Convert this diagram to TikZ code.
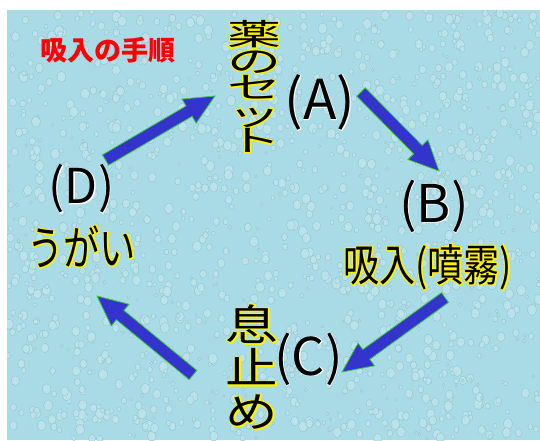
\documentclass[tikz,border=0pt]{standalone}
\usepackage{fontspec}
\usetikzlibrary{calc}
\newfontfamily\jp{Noto Sans CJK JP}
\newfontfamily\jpwide[FakeStretch=1.8]{Noto Sans CJK JP}
\newfontfamily\jpmid[FakeStretch=1.25]{Noto Sans CJK JP}
\newfontfamily\jpnarrow[FakeStretch=0.82]{Noto Sans CJK JP}
\newfontfamily\jpthin[FakeStretch=0.77]{Noto Sans CJK JP}
\definecolor{mizu}{RGB}{168,219,230}
\definecolor{aoya}{RGB}{52,52,204}
\definecolor{midori}{RGB}{60,200,60}
% vertical stack of characters with fixed pitch
\newcommand\tategaki[2]{\vbox{\baselineskip=#1\lineskiplimit=-100pt\lineskip=0pt #2}}
% text with an outline behind it: colour, stroke width, name, position, style, text
\newcommand\hikari[6]{%
  \node[#5,text=#1] at (#4)
    {\special{pdf:literal direct 1 j #2 w 2 Tr}#6\special{pdf:literal direct 0 Tr 0 j 0.4 w}};
  \node[#5] (#3) at (#4) {#6};}
% block arrow from tail #1 to tip #2
\newcommand\yajirushi[2]{%
  \coordinate (neck) at ($(#2)!30pt!(#1)$);
  \draw[yaji] ($(#1)!6pt!90:(#2)$) -- ($(neck)!6pt!90:(#2)$)
    -- ($(neck)!14pt!90:(#2)$) -- (#2) -- ($(neck)!14pt!-90:(#2)$)
    -- ($(neck)!6pt!-90:(#2)$) -- ($(#1)!6pt!-90:(#2)$) -- cycle;}

\begin{document}
\begin{tikzpicture}[x=1pt,y=-1pt,every node/.style={inner sep=0pt},
  yaji/.style={fill=aoya,draw=midori,line width=0.8pt,line join=miter},
  shizuku/.style={fill=mizu!80!white,draw=mizu!88!black,line width=0.35pt},
  moji/.style={font=\jp\fontsize{#1}{#1}\selectfont}]

\useasboundingbox (0,0) rectangle (540,440);
\fill[white] (0,0) rectangle (540,440);
\fill[mizu] (7,10) rectangle (540,440);

% water drops
\begin{scope}
\clip (7,10) rectangle (540,440);
\pgfmathsetseed{12}
\foreach \i in {1,...,1400}{
  \pgfmathsetmacro\px{7+533*rnd}
  \pgfmathsetmacro\py{10+430*rnd}
  \pgfmathsetmacro\pr{1.2+3.5*rnd}
  \draw[shizuku] (\px,\py) ellipse ({\pr} and {1.2*\pr});
}
\end{scope}

\node (tejun) at (107.5,50.5) [font=\jp\bfseries\fontsize{27}{27}\selectfont,text=red] {吸入の手順};

\hikari{yellow}{2.6}{kusuri}{254,86.5}{font=\jpwide\fontsize{30}{30}\selectfont}
  {\tategaki{26.5pt}{\hbox{薬}\hbox{の}\hbox{セ}\hbox{ッ}\hbox{ト}}}
\hikari{white}{1}{labelA}{320,102.5}{moji=55}{(A)}

\hikari{white}{1}{labelB}{434,206}{moji=52}{(B)}
\hikari{yellow}{2.6}{kyunyu}{427.5,267}{font=\jpnarrow\fontsize{44}{44}\selectfont}{吸入(噴霧)}

\hikari{white}{1}{labelC}{308.5,359}{moji=52}{(C)}
\hikari{yellow}{2.6}{ikitome}{252,367}{font=\jpmid\fontsize{42}{42}\selectfont}
  {\tategaki{43.5pt}{\hbox{息}\hbox{止}\hbox{め}}}

\hikari{white}{1}{labelD}{81.5,189}{moji=48}{(D)}
\hikari{yellow}{2.6}{ugai}{81.5,246.5}{font=\jpthin\fontsize{47}{47}\selectfont}{うがい}

\coordinate (d-out) at (105.5,160);
\coordinate (a-in) at (215,96);
\coordinate (a-out) at (361,92);
\coordinate (b-in) at (439,171);
\coordinate (b-out) at (445,297.5);
\coordinate (c-in) at (342,372);
\coordinate (c-out) at (193,375);
\coordinate (d-in) at (97,296);

\yajirushi{d-out}{a-in}
\yajirushi{a-out}{b-in}
\yajirushi{b-out}{c-in}
\yajirushi{c-out}{d-in}

\end{tikzpicture}
\end{document}
